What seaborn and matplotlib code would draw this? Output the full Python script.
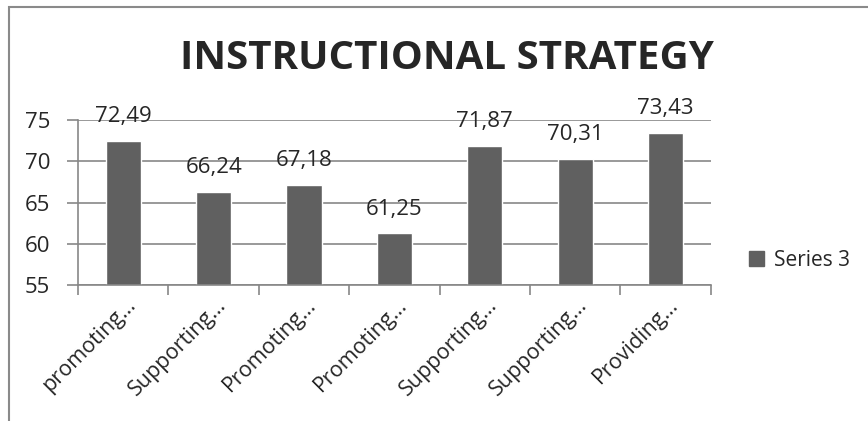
import matplotlib
matplotlib.use("Agg")
import matplotlib.pyplot as plt
import matplotlib.patches as mpatches
import matplotlib.transforms as mtransforms
import pandas as pd
import seaborn as sns

categories = ["promoting…", "Supporting…", "Promoting…", "Promoting…",
              "Supporting…", "Supporting…", "Providing…"]
values = [72.49, 66.24, 67.18, 61.25, 71.87, 70.31, 73.43]
series_name = "Series 3"
title = "INSTRUCTIONAL STRATEGY"

df = pd.DataFrame({"category": range(len(categories)), "value": values})

sns.set_style("white")
plt.rcParams["font.family"] = ["Open Sans", "DejaVu Sans"]

bar_color = "#606060"
grid_color = "#878787"

fig = plt.figure(figsize=(8.68, 4.21), dpi=100)
ax = fig.add_axes([0.0899, 0.323, 0.729, 0.392])

sns.barplot(data=df, x="category", y="value", color=bar_color, width=0.39,
            saturation=1, label=series_name, ax=ax)

ax.set_ylim(55, 75)
ax.set_yticks([55, 60, 65, 70, 75])
ax.set_xlim(-0.5, len(categories) - 0.5)
ax.yaxis.grid(True, color=grid_color, linewidth=1.2)
ax.set_axisbelow(True)
for side in ["top", "right"]:
    ax.spines[side].set_visible(False)
for side in ["left", "bottom"]:
    ax.spines[side].set_color(grid_color)
    ax.spines[side].set_linewidth(1.2)

# category boundary ticks, labels sit on minor ticks at bar centres
ax.set_xticks([i - 0.5 for i in range(len(categories) + 1)])
ax.set_xticklabels([])
ax.tick_params(axis="x", which="major", bottom=True, length=7, color=grid_color,
               width=1.2, direction="out")
ax.set_xticks(range(len(categories)), minor=True)
ax.set_xticklabels(categories, minor=True, rotation=45, ha="right",
                   rotation_mode="anchor", fontsize=15.5)
ax.tick_params(axis="x", which="minor", bottom=True, length=0, pad=7)
shift = mtransforms.ScaledTranslation(2 / 100, 0, fig.dpi_scale_trans)
for lbl in ax.get_xticklabels(minor=True):
    lbl.set_transform(lbl.get_transform() + shift)

ax.tick_params(axis="y", left=True, length=8, color=grid_color, width=1.2,
               labelsize=16, direction="out", pad=12)
ax.set_xlabel("")
ax.set_ylabel("")

for i, v in enumerate(values):
    ax.annotate(f"{v:.2f}".replace(".", ","), (i, v), xytext=(0, 10),
                textcoords="offset points", ha="center", va="bottom", fontsize=16,
                annotation_clip=False)

fig.text(0.515, 0.86, title, ha="center", va="center", fontsize=29, fontweight="bold")

handle = mpatches.Patch(color=bar_color, label=series_name)
ax.legend(handles=[handle], loc="center left", bbox_to_anchor=(1.03, 0.15),
          frameon=False, fontsize=15, handlelength=0.75, handleheight=0.75,
          handletextpad=0.45)

border = mpatches.Rectangle((0.0105, -0.1), 1.2, 0.9830 + 0.1, transform=fig.transFigure,
                            fill=False, edgecolor="#8a8a8a", linewidth=1.5)
fig.patches.append(border)

fig.savefig("out.png", dpi=100, facecolor="white")
